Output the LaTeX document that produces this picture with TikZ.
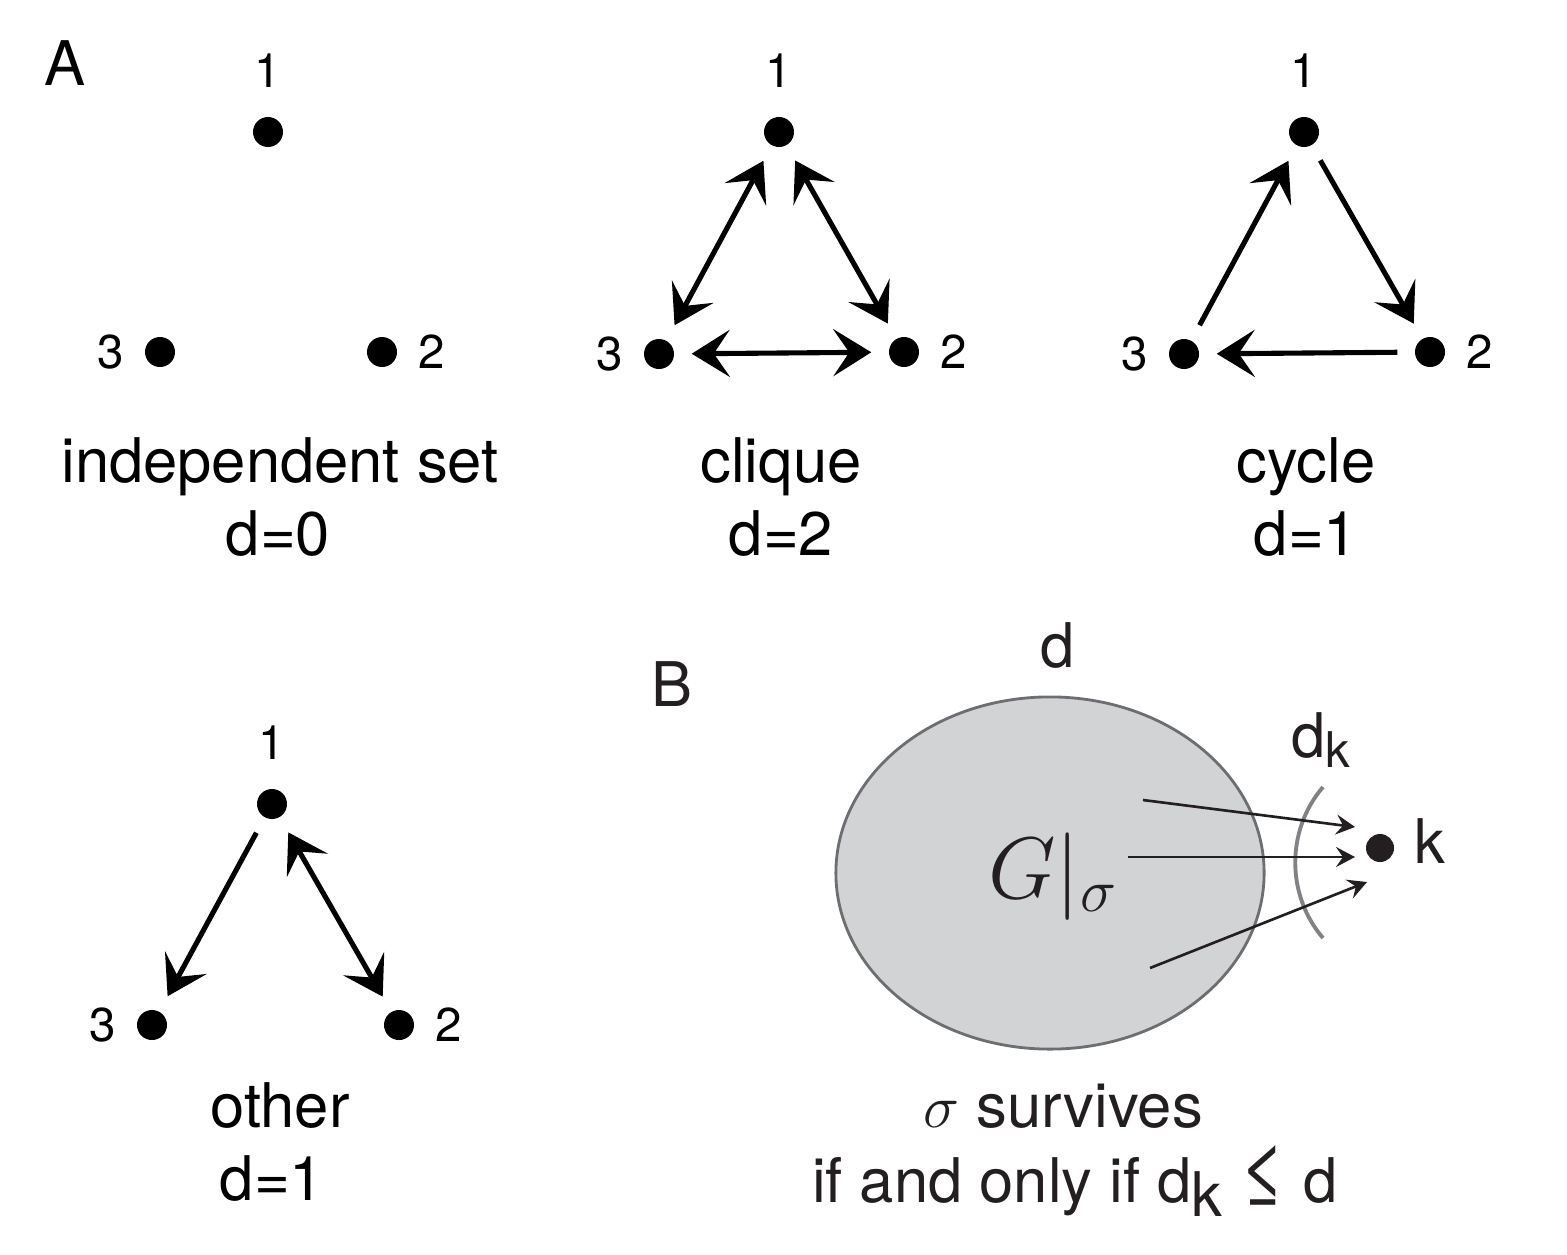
\documentclass[tikz,border=0pt]{standalone}
\usepackage{fontspec}
\setmainfont{TeX Gyre Heros}
\usepackage{tikz}
\usetikzlibrary{arrows.meta,positioning,shapes.geometric}

\definecolor{inkdark}{HTML}{231F20}
\definecolor{blobfill}{HTML}{D1D3D4}
\definecolor{blobline}{HTML}{6D6E71}
\definecolor{arcgray}{HTML}{808285}

\newcommand{\bigtext}{\fontsize{17.5}{21}\selectfont}
\newcommand{\numtext}{\fontsize{13.5}{16}\selectfont}

\begin{document}
\begin{tikzpicture}[x=0.01cm,y=-0.01cm]
	\tikzset{vtx/.style={circle,fill=black,inner sep=0pt,minimum size=0.3cm},
		num/.style={font=\numtext,inner sep=0pt},
		numup/.style={label={[num,label distance=0.28cm]above:#1}},
		numleft/.style={label={[num,label distance=0.2cm]left:#1}},
		numright/.style={label={[num,label distance=0.2cm]right:#1}},
		lbl/.style={font=\bigtext,anchor=base,inner sep=0pt},
		bigtip/.tip={Stealth[length=0.38cm,width=0.47cm,inset=0.16cm]},
		smalltip/.tip={Stealth[length=0.19cm,width=0.2cm,inset=0.07cm]}}
	\tikzstyle{link}=[line width=1.45pt,shorten <=0.17cm,shorten >=0.17cm]
	\tikzstyle{ray}=[inkdark,line width=0.75pt,-smalltip]

	\useasboundingbox (0,0) rectangle (1567,1254);

	%% A: independent set
	\node[lbl] (labA) at (65,85) {A};
	\node[vtx,numup=1] (i1) at (268,132) {};
	\node[vtx,numleft=3] (i3) at (160,352) {};
	\node[vtx,numright=2] (i2) at (382,352) {};
	\node[lbl] (iname) at (280,482) {independent set};
	\node[lbl] (ideg) at (278,555) {d=0};

	%% A: clique
	\node[vtx,numup=1] (c1) at (779,132) {};
	\node[vtx,numleft=3] (c3) at (659,354) {};
	\node[vtx,numright=2] (c2) at (904,352) {};
	\draw[link,bigtip-bigtip] (c1) -- (c3);
	\draw[link,bigtip-bigtip] (c1) -- (c2);
	\draw[link,bigtip-bigtip] (c3) -- (c2);
	\node[lbl] (cname) at (781,482) {clique};
	\node[lbl] (cdeg) at (781,555) {d=2};

	%% A: cycle
	\node[vtx,numup=1] (y1) at (1304,132) {};
	\node[vtx,numleft=3] (y3) at (1184,354) {};
	\node[vtx,numright=2] (y2) at (1430,352) {};
	\draw[link,-bigtip] (y1) -- (y2);
	\draw[link,-bigtip] (y2) -- (y3);
	\draw[link,-bigtip] (y3) -- (y1);
	\node[lbl] (yname) at (1306,482) {cycle};
	\node[lbl] (ydeg) at (1306,555) {d=1};

	%% A: other
	\node[vtx,numup=1] (o1) at (272,804) {};
	\node[vtx,numleft=3] (o3) at (152,1025) {};
	\node[vtx,numright=2] (o2) at (399,1025) {};
	\draw[link,-bigtip] (o1) -- (o3);
	\draw[link,bigtip-bigtip] (o1) -- (o2);
	\node[lbl] (oname) at (280,1127) {other};
	\node[lbl] (odeg) at (272,1200) {d=1};

	%% B: subnetwork and outside node k
	\begin{scope}[inkdark]
	    \node[lbl] (labB) at (672,706) {B};
	    \node[ellipse,draw=blobline,fill=blobfill,line width=0.8pt,minimum width=4.28cm,minimum height=3.52cm,inner sep=0pt] (blob) at (1050,873) {};
	    \node[anchor=base,inner sep=0pt,font=\fontsize{26}{30}\selectfont] (gs) at (1053,898) {$G|_{\sigma}$};
	    \node[lbl] (dtop) at (1058,667) {d};
	    \node[vtx,fill=inkdark,minimum size=0.28cm] (k) at (1380,848) {};
	    \node[lbl] (klab) at (1430,863) {k};
	    \node[lbl] (dk) at (1321,757) {d\raisebox{-3pt}{\fontsize{14}{14}\selectfont k}};

	    \draw[arcgray,line width=1.1pt] (1323,787) .. controls (1286,830) and (1286,895) .. (1323,938);

	    \coordinate (s1) at (1143,800);
	    \coordinate (s2) at (1128,857);
	    \coordinate (s3) at (1150,968);
	    \coordinate (e1) at ([shift={(-25,-21)}]k.center);
	    \coordinate (e2) at ([shift={(-25,9)}]k.center);
	    \coordinate (e3) at ([shift={(-13,34)}]k.center);
	    \draw[ray] (s1) -- (e1);
	    \draw[ray] (s2) -- (e2);
	    \draw[ray] (s3) -- (e3);

	    \node[lbl] (surv) at (1063,1127) {$\sigma$ survives};
	    \node[lbl] (cond) at (1075,1202) {if and only if d\raisebox{-4pt}{k} {\fontsize{23}{23}\selectfont ≤} d};
	\end{scope}
\end{tikzpicture}
\end{document}
